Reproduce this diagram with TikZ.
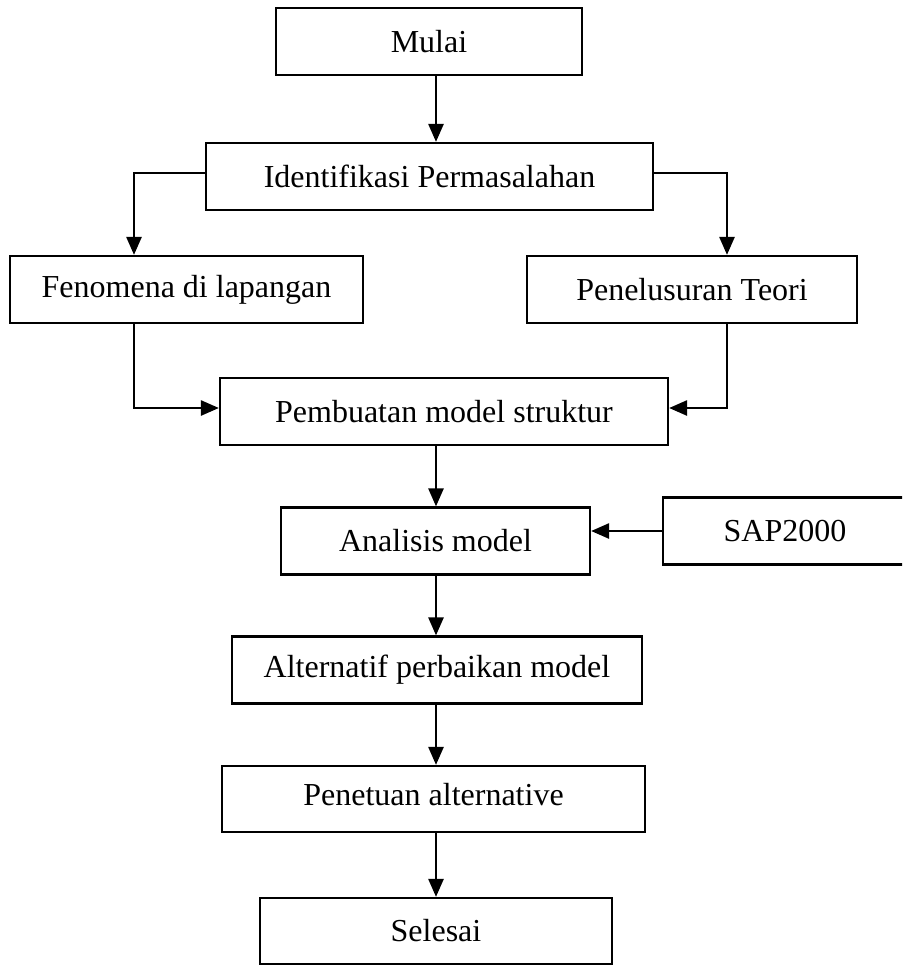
\documentclass[tikz,border=0pt]{standalone}
\usepackage{fontspec}
\setmainfont{Liberation Serif}
\usepackage{tikz}
\usetikzlibrary{arrows.meta}
\tikzset{
  flowbox/.style = {draw, line width=1.1pt, rectangle, inner sep=0pt,
                    minimum height=33.5pt, font=\fontsize{16}{19}\selectfont},
  flowar/.style  = {-{Triangle[length=9pt,width=7.5pt]}, line width=1.3pt}
}

\begin{document}
\begin{tikzpicture}[x=0.5pt, y=-0.5pt]
  \useasboundingbox (0,0) rectangle (902,965);
  \clip (0,0) rectangle (902,965);
  % columns and joints
  \coordinate (col) at (436,0);
  \coordinate (lx) at (134,173);
  \coordinate (rx) at (727,173);
  \coordinate (jn) at (0,408);
  % boxes
  \node[flowbox, minimum width=153pt]   (mulai) at (429,41.5)  {Mulai};
  \node[flowbox, minimum width=223.5pt] (ident) at (429.5,176.5) {Identifikasi Permasalahan};
  \node[flowbox, minimum width=176.5pt] (fenom) at (186.5,289.5) {Fenomena di lapangan};
  \node[flowbox, minimum width=165pt]   (penel) at (692,289.5) {Penelusuran Teori};
  \node[flowbox, minimum width=224pt]   (pemb)  at (444,411.5) {Pembuatan model struktur};
  \node[flowbox, minimum width=154.5pt] (anal)  at (435.5,541) {Analisis model};
  \node[flowbox, minimum width=122pt]   (sap)   at (785,531) {SAP2000};
  \node[flowbox, minimum width=205pt]   (alt)   at (437,670) {Alternatif perbaikan model};
  \node[flowbox, minimum width=211.5pt, minimum height=33pt] (penet) at (433.5,799) {};
  \node[font=\fontsize{16}{19}\selectfont] (penett) at (433.5,795) {Penetuan alternative};
  \node[flowbox, minimum width=176pt, minimum height=33pt] (sel) at (436,931) {Selesai};
  % connectors
  \draw[flowar] (mulai.south -| col) -- (ident.north -| col);
  \draw[flowar] (ident.west |- lx) -| (fenom.north -| lx);
  \draw[flowar] (ident.east |- rx) -| (penel.north -| rx);
  \draw[flowar] (fenom.south -| lx) |- (pemb.west |- jn);
  \draw[flowar] (penel.south -| rx) |- (pemb.east |- jn);
  \draw[flowar] (pemb.south -| col) -- (anal.north -| col);
  \draw[flowar] (sap.west) -- (sap.west -| anal.east);
  \draw[flowar] (anal.south -| col) -- (alt.north -| col);
  \draw[flowar] (alt.south -| col) -- (penet.north -| col);
  \draw[flowar] (penet.south -| col) -- (sel.north -| col);
\end{tikzpicture}
\end{document}
